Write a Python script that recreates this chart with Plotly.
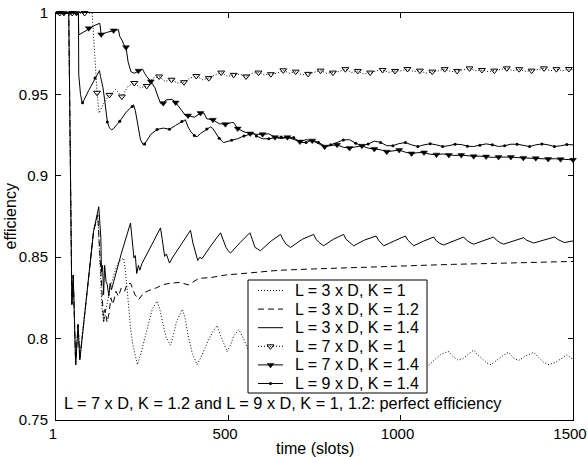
import plotly.graph_objects as go

# ---------------- data ----------------
# L = 3 x D, K = 1   (dotted)
F_T = [1, 38, 47, 51, 58, 65, 70, 91, 110, 122, 126, 130, 134, 139, 148, 158, 170, 182, 197, 202, 207,
       212, 217, 224, 231, 237, 246, 255, 265, 280, 294, 302, 310, 320, 333, 340, 350, 367, 375, 385,
       396, 410, 420, 430, 445, 458, 468, 478, 487, 497, 507, 516, 531, 545, 560, 575, 595, 615, 630,
       648, 665, 685, 710, 728, 745, 762, 780, 800, 815, 833, 852, 872, 893, 910, 928, 945, 965, 985,
       1000, 1020, 1040, 1060, 1080, 1100, 1115, 1130, 1140, 1152, 1165, 1180, 1195, 1212, 1222, 1238,
       1250, 1262, 1280, 1300, 1313, 1328, 1342, 1360, 1375, 1386, 1400, 1415, 1430, 1450, 1468, 1482,
       1492, 1500]
F_V = [1, 1, 0.821, 0.839, 0.784, 0.8086, 0.787, 0.83, 0.866, 0.876, 0.86, 0.839, 0.819, 0.81, 0.82,
       0.831, 0.84, 0.847, 0.8495, 0.842, 0.831, 0.818, 0.8066, 0.796, 0.789, 0.784, 0.79, 0.797, 0.806,
       0.818, 0.823, 0.818, 0.81, 0.801, 0.796, 0.801, 0.81, 0.818, 0.813, 0.801, 0.791, 0.784, 0.788,
       0.793, 0.8, 0.805, 0.808, 0.802, 0.797, 0.792, 0.796, 0.8015, 0.8055, 0.8, 0.792, 0.787, 0.792,
       0.799, 0.801, 0.796, 0.79, 0.793, 0.799, 0.796, 0.789, 0.786, 0.791, 0.797, 0.795, 0.79, 0.787,
       0.791, 0.796, 0.794, 0.789, 0.786, 0.79, 0.795, 0.794, 0.789, 0.786, 0.785, 0.7834, 0.787, 0.79,
       0.7915, 0.792, 0.789, 0.787, 0.7875, 0.79, 0.793, 0.7905, 0.787, 0.785, 0.784, 0.787, 0.79,
       0.7916, 0.788, 0.7865, 0.789, 0.7905, 0.7916, 0.7885, 0.7855, 0.784, 0.7855, 0.788, 0.79, 0.7885,
       0.787]

# L = 3 x D, K = 1.2   (dashed)
E_T = [1, 38, 47, 51, 58, 65, 70, 91, 110, 122, 126, 130, 134, 139, 143, 149, 155, 160, 166, 175, 182,
       190, 200, 207, 217, 222, 230, 241, 255, 270, 290, 310, 330, 360, 385, 415, 450, 490, 530, 580,
       650, 750, 850, 950, 1050, 1150, 1250, 1350, 1450, 1500]
E_V = [1, 1, 0.821, 0.839, 0.784, 0.8086, 0.787, 0.83, 0.866, 0.876, 0.86, 0.839, 0.823, 0.8106, 0.818,
       0.81, 0.8157, 0.825, 0.821, 0.829, 0.826, 0.831, 0.829, 0.8335, 0.834, 0.831, 0.827, 0.824,
       0.828, 0.8295, 0.831, 0.833, 0.834, 0.8345, 0.833, 0.837, 0.8375, 0.839, 0.8398, 0.8405, 0.842,
       0.8428, 0.8436, 0.8444, 0.845, 0.8456, 0.8461, 0.8466, 0.847, 0.8474]

# L = 3 x D, K = 1.4   (solid)
D_T = [1, 38, 47, 51, 58, 65, 70, 91, 110, 125, 128, 131, 133, 136, 139, 142, 146, 150, 154, 158, 162,
       190, 217, 222, 227, 231, 235, 240, 244, 250, 280, 304, 309, 316, 321, 330, 338, 365, 391, 398,
       405, 412, 418, 424, 450, 478, 485, 494, 500, 507, 535, 563, 570, 578, 586, 594, 625, 652, 659,
       668, 681, 715, 748, 755, 764, 777, 805, 835, 842, 852, 864, 895, 929, 936, 944, 951, 982, 1014,
       1021, 1030, 1038, 1066, 1096, 1104, 1114, 1125, 1154, 1183, 1191, 1201, 1212, 1240, 1270, 1278,
       1288, 1299, 1328, 1357, 1365, 1375, 1386, 1415, 1447, 1455, 1465, 1475, 1500]
D_V = [1, 1, 0.821, 0.839, 0.784, 0.8086, 0.787, 0.83, 0.866, 0.881, 0.874, 0.862, 0.841, 0.845, 0.827,
       0.845, 0.835, 0.833, 0.826, 0.834, 0.83, 0.852, 0.871, 0.862, 0.8495, 0.851, 0.84, 0.845, 0.842,
       0.846, 0.858, 0.868, 0.861, 0.8505, 0.852, 0.8464, 0.8495, 0.858, 0.8665, 0.8587, 0.853, 0.848,
       0.85, 0.849, 0.857, 0.865, 0.861, 0.856, 0.854, 0.8526, 0.859, 0.865, 0.861, 0.856, 0.855, 0.854,
       0.86, 0.864, 0.861, 0.858, 0.856, 0.861, 0.864, 0.861, 0.859, 0.857, 0.861, 0.864, 0.861, 0.859,
       0.857, 0.8605, 0.863, 0.8605, 0.8585, 0.857, 0.86, 0.863, 0.8605, 0.8585, 0.857, 0.8598, 0.8624,
       0.86, 0.8585, 0.8575, 0.86, 0.8624, 0.8605, 0.859, 0.858, 0.86, 0.8624, 0.8605, 0.859, 0.858,
       0.86, 0.862, 0.8605, 0.8595, 0.8587, 0.8605, 0.8624, 0.861, 0.8598, 0.859, 0.86]

# L = 7 x D, K = 1   (dotted, triangles every 36 slots from t = 12)
C_T = [1, 12, 30, 48, 66, 84, 106, 120, 126, 138, 156, 174, 192, 210, 228, 246, 264, 282, 300, 318,
       336, 354, 372, 390, 408, 426, 444, 462, 480, 498, 516, 534, 552, 570, 588, 606, 624, 642, 660,
       678, 696, 714, 732, 750, 768, 786, 804, 822, 840, 858, 876, 894, 912, 930, 948, 966, 984, 1002,
       1020, 1038, 1056, 1074, 1092, 1110, 1128, 1146, 1164, 1182, 1200, 1218, 1236, 1254, 1272, 1290,
       1308, 1326, 1344, 1362, 1380, 1398, 1416, 1434, 1452, 1470, 1488, 1500]
C_V = [1, 1, 1, 1, 1, 1, 1, 0.951, 0.9385, 0.944, 0.9497, 0.953, 0.9487, 0.955, 0.957, 0.954, 0.9552,
       0.96, 0.961, 0.958, 0.959, 0.957, 0.9575, 0.96, 0.9613, 0.959, 0.96, 0.962, 0.9634, 0.961, 0.962,
       0.9625, 0.961, 0.963, 0.9634, 0.962, 0.9624, 0.963, 0.9648, 0.963, 0.964, 0.962, 0.9626, 0.9635,
       0.9646, 0.963, 0.9634, 0.964, 0.9655, 0.9635, 0.9644, 0.9625, 0.9634, 0.9645, 0.965, 0.9635,
       0.9644, 0.9645, 0.9656, 0.964, 0.9646, 0.963, 0.964, 0.9645, 0.9655, 0.964, 0.9644, 0.965, 0.966,
       0.9645, 0.965, 0.964, 0.9646, 0.9652, 0.966, 0.9645, 0.9655, 0.9642, 0.9646, 0.9652, 0.966,
       0.9645, 0.9655, 0.9645, 0.9656, 0.965]

# L = 7 x D, K = 1.4   (solid, triangles every 36 slots from t = 24)
A_T = [1, 24, 42, 60, 66, 67, 78, 96, 114, 128, 130, 132, 150, 168, 182, 186, 192, 198, 204, 210, 218,
       228, 240, 252, 258, 264, 276, 288, 296, 304, 312, 320, 338, 348, 366, 376, 384, 402, 420, 430,
       438, 456, 474, 492, 510, 516, 528, 546, 564, 582, 600, 618, 636, 654, 672, 690, 708, 726, 744,
       762, 780, 798, 816, 834, 852, 870, 888, 906, 924, 942, 960, 978, 996, 1014, 1032, 1050, 1068,
       1086, 1104, 1122, 1140, 1158, 1176, 1194, 1212, 1230, 1248, 1266, 1284, 1302, 1320, 1338, 1356,
       1374, 1392, 1410, 1428, 1446, 1464, 1482, 1500]
A_V = [1, 1, 1, 1, 1, 0.9865, 0.988, 0.9906, 0.9925, 0.9937, 0.9868, 0.9868, 0.9882, 0.9893, 0.9898,
       0.9855, 0.9834, 0.9804, 0.979, 0.97, 0.964, 0.963, 0.9645, 0.9655, 0.963, 0.961, 0.958, 0.954,
       0.949, 0.9446, 0.9446, 0.9466, 0.947, 0.945, 0.94, 0.937, 0.937, 0.936, 0.9385, 0.9385, 0.935,
       0.9344, 0.932, 0.9317, 0.9327, 0.9327, 0.929, 0.927, 0.926, 0.9255, 0.9255, 0.9258, 0.9237,
       0.9228, 0.9237, 0.9225, 0.921, 0.9222, 0.9216, 0.9198, 0.9178, 0.9186, 0.919, 0.9175, 0.917,
       0.9178, 0.9184, 0.917, 0.9165, 0.916, 0.9148, 0.9155, 0.9158, 0.9145, 0.9137, 0.9142, 0.9143,
       0.9132, 0.913, 0.9134, 0.9128, 0.9125, 0.9127, 0.9122, 0.912, 0.9121, 0.9118, 0.9113, 0.9115,
       0.9116, 0.9115, 0.9112, 0.911, 0.9111, 0.9108, 0.9104, 0.9103, 0.9105, 0.9102, 0.9099, 0.9098]

# L = 9 x D, K = 1.4   (solid, dots every 36 slots from t = 6)
B_T = [1, 6, 24, 42, 60, 66, 67, 72, 77, 78, 96, 114, 127, 130, 137, 142, 147, 150, 156, 162, 168, 186,
       204, 222, 226, 231, 236, 242, 246, 254, 258, 276, 294, 312, 330, 348, 366, 376, 384, 392, 402,
       410, 420, 438, 449, 456, 468, 474, 487, 492, 510, 528, 546, 564, 574, 582, 600, 618, 636, 654,
       672, 690, 708, 726, 744, 762, 780, 798, 816, 834, 852, 870, 888, 906, 924, 942, 960, 978, 996,
       1014, 1032, 1050, 1068, 1086, 1104, 1122, 1140, 1158, 1176, 1194, 1212, 1230, 1248, 1266, 1284,
       1302, 1320, 1338, 1356, 1374, 1392, 1410, 1428, 1446, 1464, 1482, 1500]
B_V = [1, 1, 1, 1, 1, 1, 0.962, 0.95, 0.9446, 0.9448, 0.9525, 0.96, 0.9646, 0.961, 0.9544, 0.9466,
       0.9364, 0.933, 0.9295, 0.9282, 0.929, 0.9335, 0.939, 0.9425, 0.9436, 0.94, 0.934, 0.926, 0.9221,
       0.919, 0.9195, 0.9255, 0.9285, 0.9293, 0.9286, 0.931, 0.9333, 0.9344, 0.93, 0.927, 0.9248, 0.924,
       0.926, 0.9288, 0.93, 0.929, 0.9255, 0.923, 0.9204, 0.9208, 0.9218, 0.9228, 0.9245, 0.9255, 0.926,
       0.9245, 0.9227, 0.9228, 0.9232, 0.9238, 0.9232, 0.9236, 0.9205, 0.9205, 0.922, 0.9205, 0.9184,
       0.919, 0.9205, 0.922, 0.9222, 0.92, 0.9184, 0.9195, 0.9213, 0.9205, 0.9185, 0.9185, 0.9198,
       0.9204, 0.919, 0.918, 0.919, 0.9197, 0.919, 0.918, 0.9185, 0.9194, 0.9192, 0.9182, 0.918, 0.9188,
       0.9196, 0.919, 0.918, 0.9185, 0.9194, 0.9194, 0.9185, 0.918, 0.919, 0.9196, 0.919, 0.918, 0.9184,
       0.9192, 0.919]

NAMES = ["L = 3 x D, K = 1", "L = 3 x D, K = 1.2", "L = 3 x D, K = 1.4",
         "L = 7 x D, K = 1", "L = 7 x D, K = 1.4", "L = 9 x D, K = 1.4"]
X_TICKS = [1, 500, 1000, 1500]
Y_TICKS = [0.75, 0.8, 0.85, 0.9, 0.95, 1.0]
Y_TICKTEXT = ["0.75", "0.8", "0.85", "0.9", "0.95", "1"]
NOTE = "L = 7 x D, K = 1.2 and L = 9 x D, K = 1, 1.2: perfect efficiency"

# ---------------- layout constants (pixels) ----------------
W, H = 588, 457
ML, MR, MT, MB = 56, 15, 13, 37
PX0, PX1 = ML, W - MR          # plot area in page pixels
PY0, PY1 = MT, H - MB
LEG_X0, LEG_X1, LEG_Y0, LEG_Y1 = 248, 427, 280, 393
ROW0, ROW_H = 290.5, 18.6
SAMPLE_X0, SAMPLE_X1, TEXT_X = 258, 283, 293
NOTE_X, NOTE_Y = 62, 403

FONT = "Liberation Sans, Arial, Helvetica, sans-serif"
DOT = "1px,2px"
DASH = "6px,4px"

C_MARK = dict(symbol="triangle-down-open", size=6, color="black", line=dict(width=1, color="black"))
A_MARK = dict(symbol="triangle-down", size=6, color="black", line=dict(width=0.5, color="black"))
B_MARK = dict(symbol="circle", size=3, color="black", line=dict(width=0))

fig = go.Figure()


def add_line(t, v, dash):
    fig.add_trace(go.Scatter(x=t, y=v, mode="lines", showlegend=False,
                             line=dict(color="black", width=1, dash=dash), hoverinfo="skip"))


def add_marks(t, v, start, step, marker):
    idx = [i for i, tt in enumerate(t) if tt >= start and (tt - start) % step == 0]
    fig.add_trace(go.Scatter(x=[t[i] for i in idx], y=[v[i] for i in idx], mode="markers",
                             marker=marker, showlegend=False, cliponaxis=False, hoverinfo="skip"))


add_line(F_T, F_V, DOT)
add_line(E_T, E_V, DASH)
add_line(D_T, D_V, "solid")
add_line(C_T, C_V, DOT)
add_line(A_T, A_V, "solid")
add_line(B_T, B_V, "solid")
add_marks(C_T, C_V, 12, 36, C_MARK)
add_marks(A_T, A_V, 24, 36, A_MARK)
add_marks(B_T, B_V, 6, 36, B_MARK)

# ---- legend box drawn on an overlay axis measured in page pixels ----
fig.add_trace(go.Scatter(x=[LEG_X0, LEG_X1, LEG_X1, LEG_X0, LEG_X0],
                         y=[LEG_Y0, LEG_Y0, LEG_Y1, LEG_Y1, LEG_Y0],
                         mode="lines", fill="toself", fillcolor="white",
                         line=dict(color="black", width=1), xaxis="x2", yaxis="y2",
                         showlegend=False, hoverinfo="skip"))
LEG_STYLES = [(DOT, None), (DASH, None), ("solid", None),
              (DOT, C_MARK), ("solid", A_MARK), ("solid", B_MARK)]
annotations = []
for i, (name, (dash, mk)) in enumerate(zip(NAMES, LEG_STYLES)):
    yc = ROW0 + i * ROW_H
    fig.add_trace(go.Scatter(x=[SAMPLE_X0, SAMPLE_X1], y=[yc, yc], mode="lines",
                             line=dict(color="black", width=1, dash=dash), xaxis="x2", yaxis="y2",
                             showlegend=False, hoverinfo="skip"))
    if mk is not None:
        fig.add_trace(go.Scatter(x=[(SAMPLE_X0 + SAMPLE_X1) / 2], y=[yc], mode="markers", marker=mk,
                                 xaxis="x2", yaxis="y2", showlegend=False, hoverinfo="skip"))
    annotations.append(dict(text=name, xref="x2", yref="y2", x=TEXT_X, y=yc, xanchor="left",
                            yanchor="middle", showarrow=False,
                            font=dict(family=FONT, size=16, color="black")))

annotations += [
    dict(text=NOTE, xref="x2", yref="y2", x=NOTE_X, y=NOTE_Y, xanchor="left", yanchor="middle",
         showarrow=False, font=dict(family=FONT, size=16.3, color="black")),
    dict(text="time (slots)", xref="paper", yref="paper", x=0.5, y=0, yanchor="top",
         yshift=-18, showarrow=False, font=dict(family=FONT, size=16, color="black")),
    dict(text="efficiency", xref="paper", yref="paper", x=0, y=0.5, xanchor="center",
         yanchor="middle", xshift=-46, textangle=-90, showarrow=False,
         font=dict(family=FONT, size=16, color="black")),
]

axis_common = dict(showline=True, linecolor="black", linewidth=1, mirror="ticks", ticks="inside",
                   ticklen=5, tickcolor="black", tickwidth=1, showgrid=False, zeroline=False,
                   tickfont=dict(family=FONT, size=15, color="black"), automargin=False,
                   ticklabeloverflow="allow")

fig.update_layout(
    width=W, height=H,
    margin=dict(l=ML, r=MR, t=MT, b=MB),
    paper_bgcolor="white", plot_bgcolor="white",
    font=dict(family=FONT, size=15, color="black"),
    xaxis=dict(range=[1, 1500], tickvals=X_TICKS, ticktext=[str(v) for v in X_TICKS],
               ticklabelshift=-3, **axis_common),
    yaxis=dict(range=[0.75, 1.0], tickvals=Y_TICKS, ticktext=Y_TICKTEXT, ticklabelstandoff=4,
               **axis_common),
    xaxis2=dict(overlaying="x", range=[PX0, PX1], visible=False, fixedrange=True),
    yaxis2=dict(overlaying="y", range=[PY1, PY0], visible=False, fixedrange=True),
    showlegend=False,
    annotations=annotations,
)

fig.write_html("out.html")
